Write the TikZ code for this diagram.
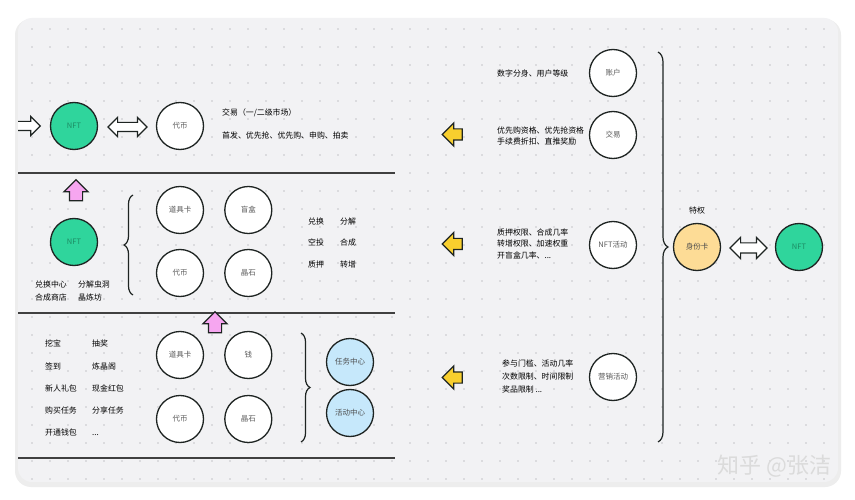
\documentclass[tikz,border=0pt]{standalone}
\usepackage{fontspec}
\setmainfont{Noto Sans CJK SC}
\usetikzlibrary{shapes.arrows,decorations.pathreplacing,positioning}

\definecolor{ink}{HTML}{1E2422}
\definecolor{panel}{HTML}{F2F2F4}
\definecolor{dotgray}{HTML}{C4C4C8}
\definecolor{mintgreen}{HTML}{2FD59C}
\definecolor{mintdark}{HTML}{1C8A62}
\definecolor{skyblue}{HTML}{C6E8FB}
\definecolor{sandyellow}{HTML}{FDDC96}
\definecolor{pinkarrow}{HTML}{F6A6F0}
\definecolor{goldarrow}{HTML}{F8CF2E}

\tikzset{
    coin/.style ={
        shape=circle,
        draw=ink,
        line width=1.3pt,
        minimum size=47pt,
        inner sep=0pt,
        font=\fontsize{7.5}{8}\selectfont
    },
    mint/.style ={coin, fill=mintgreen, text=mintdark},
    plain/.style ={coin, fill=white, text=black!65},
    sky/.style ={coin, fill=skyblue, text=black!70},
    sand/.style ={coin, fill=sandyellow, text=black!70},
    label/.style ={
        anchor=west,
        inner sep=0pt,
        text=black,
        font=\fontsize{7.9}{11}\selectfont
    },
    word/.style ={label, text height=6.3pt, text depth=1.3pt},
    hollow/.style ={
        draw=ink,
        fill=white,
        line width=1.2pt
    },
    onearrow/.style ={hollow, single arrow},
    twoarrow/.style ={hollow, double arrow},
    bracket/.style ={
        decorate,
        decoration={brace, amplitude=9pt},
        draw=ink,
        line width=1.2pt
    },
    rule/.style ={draw=black!75, line width=1.2pt}
}

\begin{document}
\begin{tikzpicture}[x=1pt,y=-1pt]
    \useasboundingbox (0,0) rectangle (855,500);
    \fill[white] (0,0) rectangle (855,500);
    \fill[black!7, rounded corners=16pt] (15,19) rectangle (841,487);
    \fill[panel, rounded corners=14pt] (18,18) rectangle (838,482);

    \begin{scope}
        \clip[rounded corners=14pt] (18,18) rectangle (838,482);
        \foreach \x in {32,50,...,830}
            \foreach \y in {29,47,...,480}
                \fill[dotgray] (\x,\y) circle (0.8);
        \node[onearrow, inner sep=4pt, single arrow head extend=5pt,
              minimum height=34pt] (in) at (21,126) {};
        \draw[rule] (18,173) -- (395,173);
        \draw[rule] (18,313) -- (395,313);
        \draw[rule] (18,458) -- (395,458);
    \end{scope}

    % top row: trading
    \node[mint] (nft1) at (74,126) {NFT};
    \node[twoarrow, inner sep=4pt, double arrow head extend=5pt,
          minimum height=39pt] (swap1) at (127.5,127) {};
    \node[plain] (coin1) at (180,126) {代币};
    \node[word] (trade) at (222,113) {交易（一/二级市场）};
    \node[word] (sale) at (222,136) {首发、优先抢、优先购、申购、拍卖};

    % middle row: props
    \node[onearrow, fill=pinkarrow, inner sep=6pt, single arrow head extend=5.5pt,
          minimum height=21pt, shape border rotate=90] (up1) at (76,193.5) {};
    \node[mint] (nft2) at (74,242) {NFT};
    \node[word] (hub1) at (35,285) {兑换中心};
    \node[word] (hub2) at (78,285) {分解虫洞};
    \node[word] (hub3) at (35,298) {合成商店};
    \node[word] (hub4) at (78,298) {晶炼坊};
    \draw[bracket] (133,295) -- (133,195);
    \node[plain] (card2) at (180,210) {道具卡};
    \node[plain, right=20pt of card2] (box2) {盲盒};
    \node[plain] (coin2) at (180,273) {代币};
    \node[plain, right=20pt of coin2] (gem2) {晶石};
    \node[word] (op1) at (308,222) {兑换};
    \node[word] (op2) at (340,222) {分解};
    \node[word] (op3) at (308,243) {空投};
    \node[word] (op4) at (340,243) {合成};
    \node[word] (op5) at (308,265) {质押};
    \node[word] (op6) at (340,265) {转增};

    % bottom row: tasks
    \node[onearrow, fill=pinkarrow, inner sep=6pt, single arrow head extend=5.5pt,
          minimum height=21pt, shape border rotate=90] (up2) at (215,325.5) {};
    \node[word] (task1) at (45,344) {挖宝};
    \node[word] (task2) at (92,344) {抽奖};
    \node[word] (task3) at (45,367) {签到};
    \node[word] (task4) at (92,367) {炼晶阁};
    \node[word] (task5) at (45,389) {新人礼包};
    \node[word] (task6) at (92,389) {现金红包};
    \node[word] (task7) at (45,411) {购买任务};
    \node[word] (task8) at (92,411) {分享任务};
    \node[word] (task9) at (45,433) {开通钱包};
    \node[word] (task10) at (92,433) {...};
    \node[plain] (card3) at (180,355) {道具卡};
    \node[plain, right=20pt of card3] (cash3) {钱};
    \node[plain] (coin3) at (180,419) {代币};
    \node[plain, right=20pt of coin3] (gem3) {晶石};
    \draw[bracket] (301,333) -- (301,442);
    \node[sky] (taskhub) at (350,362) {任务中心};
    \node[sky] (eventhub) at (350,413) {活动中心};

    % right column: privileges
    \node[plain] (acct) at (613,73) {账户};
    \node[plain] (deal) at (613,135) {交易};
    \node[plain] (nftact) at (613,245) {NFT活动};
    \node[plain] (promo) at (613,377) {营销活动};
    \node[word] (perk1) at (497,74) {数字分身、用户等级};
    \node[label, align=left] (perk2) at (497,135.5) {优先购资格、优先抢资格\\手续费折扣、直推奖励};
    \node[label, align=left, font=\fontsize{7.9}{11.5}\selectfont] (perk3) at (497,243.5)
        {质押权限、合成几率\\转增权限、加速权重\\开盲盒几率、...};
    \node[label, align=left, font=\fontsize{7.9}{13.3}\selectfont] (perk4) at (502,376.5)
        {参与门槛、活动几率\\次数限制、时间限制\\奖品限制 ...};
    \foreach \y/\n in {134.5/back1, 244/back2, 377.5/back3}
        \node[onearrow, fill=goldarrow, inner sep=5pt, single arrow head extend=6pt,
              minimum height=20pt, shape border rotate=180] (\n) at (455,\y) {};
    \draw[bracket, decoration={brace, amplitude=10pt}] (658,52) -- (658,442);
    \node[sand] (idcard) at (697,247) {身份卡};
    \node[word, anchor=center] (perk) at (697,211) {特权};
    \node[twoarrow, inner sep=4.5pt, double arrow head extend=5.5pt,
          minimum height=37pt] (swap2) at (748.5,248) {};
    \node[mint] (nft3) at (799,247) {NFT};

    \node[text=black!14, font=\fontsize{22}{24}\selectfont, anchor=east] (mark) at (835,466) {知乎 @张洁};
\end{tikzpicture}
\end{document}
